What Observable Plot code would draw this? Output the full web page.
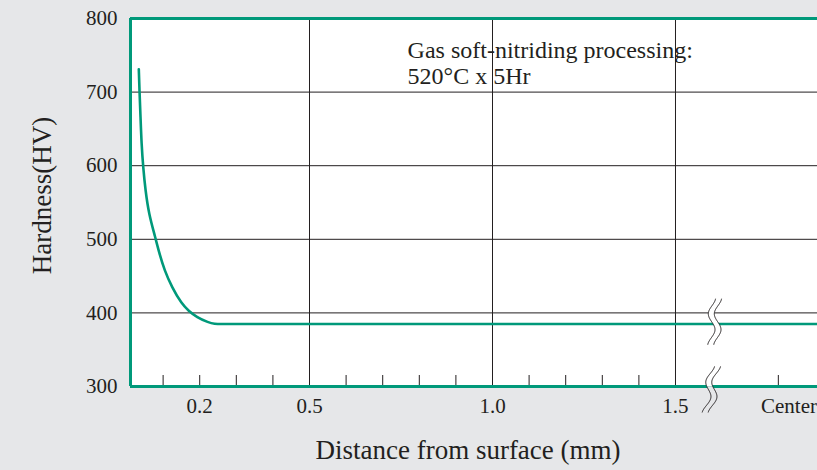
<!DOCTYPE html>
<html><head><meta charset="utf-8">
<script src="https://cdn.jsdelivr.net/npm/d3@7"></script>
<script src="https://cdn.jsdelivr.net/npm/@observablehq/plot@0.6"></script>
<style>
html,body{margin:0;padding:0;background:#e6e7e9;}
#chart{width:817px;height:470px;overflow:hidden;}
svg{display:block}
</style></head><body><div id="chart"></div>
<script>
// ---- data ----
const depth    = [0.0336, 0.0355, 0.0383, 0.0410, 0.0456, 0.0519, 0.0609, 0.0784, 0.0902, 0.1038, 0.1238, 0.1511, 0.1694, 0.1921, 0.2240, 0.2400, 0.2600, 0.3000, 1.8500, 1.888];
const hardness = [731,    701,    666,    630,    597,    566,    535,    503,    480,    458,    435,    412,    403,    394,    387,    385,    385,    385,    385,    385];

const xDomain = [0.0109, 1.888];
const yDomain = [300, 800];
const yTicks = [300, 400, 500, 600, 700, 800];
const yGrid = [400, 500, 600, 700];
const xGrid = [0.5, 1.0, 1.5];
const xMinorTicks = [0.1, 0.2, 0.3, 0.4, 0.6, 0.7, 0.8, 0.9, 1.1, 1.2, 1.3, 1.4, 1.781];
const xLabelTicks = [0.2, 0.5, 1.0, 1.5, 1.81];
const xLabels = ["0.2", "0.5", "1.0", "1.5", "Center"];
const breakX = [1.607, 1.598];
const breakY = [388, 296];
const annotation = "Gas soft-nitriding processing:\n520°C x 5Hr";
const annotX = 0.768, annotY = 771;
const xTitle = "Distance from surface (mm)";
const yTitle = "Hardness(HV)";

// ---- styles ----
const green = "#00997a";
const ink = "#231f20";
const bg = "#e6e7e9";
const font = "Liberation Serif, Times New Roman, serif";

// axis-break symbol (double wavy line)
const R = 23;
const wave = (y, tilt) => 3.5 * Math.sin(Math.PI * y / 16) - tilt * y;
function breakStroke(tilt) {
  return {draw(ctx, size) {
    const s = Math.sqrt(size / Math.PI) / R;
    for (const off of [-3, 3]) {
      for (let y = -R; y <= R; y += 0.5) {
        const px = (wave(y, tilt) + off) * s, py = y * s;
        if (y === -R) ctx.moveTo(px, py); else ctx.lineTo(px, py);
      }
    }
  }};
}
function breakFill(tilt, y0, y1) {
  return {draw(ctx, size) {
    const s = Math.sqrt(size / Math.PI) / R;
    let first = true;
    for (let y = y0; y <= y1; y += 0.5) {
      const px = (wave(y, tilt) - 3) * s, py = y * s;
      if (first) { ctx.moveTo(px, py); first = false; } else ctx.lineTo(px, py);
    }
    for (let y = y1; y >= y0; y -= 0.5) ctx.lineTo((wave(y, tilt) + 3) * s, y * s);
    ctx.closePath();
  }};
}

const curve = depth.map((d, i) => ({depth: d, hv: hardness[i]}));
const b0 = [{x: breakX[0], y: breakY[0]}];
const b1 = [{x: breakX[1], y: breakY[1]}];

const chart = Plot.plot({
  width: 817, height: 470,
  marginLeft: 130, marginRight: 0, marginTop: 18, marginBottom: 84,
  style: {background: bg, fontFamily: font, color: ink, overflow: "hidden"},
  x: {domain: xDomain, axis: null},
  y: {domain: yDomain, axis: null},
  marks: [
    Plot.frame({fill: "white", stroke: "none"}),
    Plot.ruleY(yGrid, {stroke: ink, strokeWidth: 1}),
    Plot.ruleX(xGrid, {stroke: ink, strokeWidth: 1}),
    Plot.ruleX(xMinorTicks, {stroke: ink, strokeWidth: 1, insetTop: 357}),
    Plot.line(curve, {x: "depth", y: "hv", stroke: green, strokeWidth: 2.6, curve: "basis"}),
    Plot.ruleX([xDomain[0]], {stroke: green, strokeWidth: 3}),
    Plot.ruleY(yDomain, {stroke: green, strokeWidth: 3}),
    // axis breaks
    Plot.dot(b0, {x: "x", y: "y", r: R, symbol: breakFill(0.02, -R, R), fill: "white", stroke: "none"}),
    Plot.dot(b1, {x: "x", y: "y", r: R, symbol: breakFill(0.12, -R, -3), fill: "white", stroke: "none"}),
    Plot.dot(b1, {x: "x", y: "y", r: R, symbol: breakFill(0.12, -3, R), fill: bg, stroke: "none"}),
    Plot.dot(b0, {x: "x", y: "y", r: R, symbol: breakStroke(0.02), fill: "none", stroke: ink, strokeWidth: 1}),
    Plot.dot(b1, {x: "x", y: "y", r: R, symbol: breakStroke(0.12), fill: "none", stroke: ink, strokeWidth: 1}),
    // tick labels
    Plot.text(yTicks, {y: d => d, frameAnchor: "left", dx: -13, textAnchor: "end", lineAnchor: "middle", text: d => String(d), fontSize: 21, fill: ink}),
    Plot.text(xLabelTicks, {x: d => d, frameAnchor: "bottom", dy: 12, textAnchor: "middle", lineAnchor: "top", text: (d, i) => xLabels[i], fontSize: 21, fill: ink}),
    // titles
    Plot.text([yTitle], {frameAnchor: "left", dx: -88, dy: -7, rotate: -90, textAnchor: "middle", lineAnchor: "middle", fontSize: 27, fill: ink}),
    Plot.text([xTitle], {frameAnchor: "bottom", dx: -6, dy: 64, textAnchor: "middle", lineAnchor: "middle", fontSize: 27, fill: ink}),
    // annotation
    Plot.text([annotation], {x: annotX, y: annotY, textAnchor: "start", lineAnchor: "top", lineHeight: 1.07, fontSize: 24, fill: ink})
  ]
});
document.getElementById("chart").append(chart);
</script></body></html>
